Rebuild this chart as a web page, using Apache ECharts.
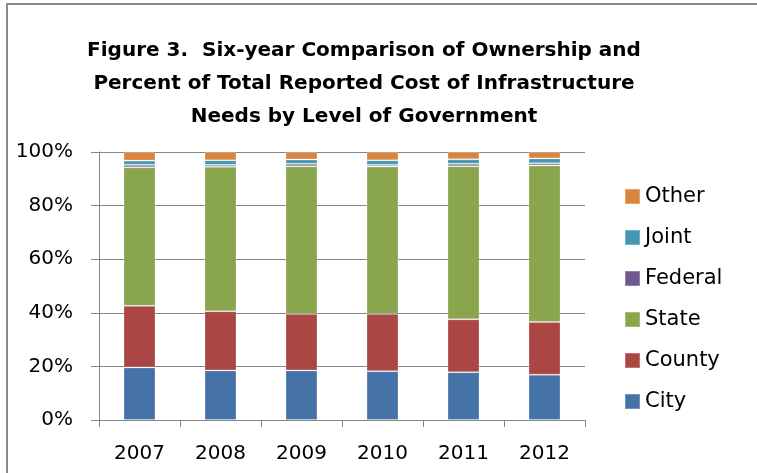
<!DOCTYPE html>
<html>
<head>
<meta charset="utf-8">
<script src="https://cdn.jsdelivr.net/npm/echarts@6/dist/echarts.min.js"></script>
<style>
  html, body { margin: 0; padding: 0; background: #fff; overflow: hidden; }
  #chart { width: 757px; height: 473px; position: relative; }
  .frame {
    position: absolute; left: 6px; top: 3px; width: 800px; height: 520px;
    border: 2px solid #8a8a8a; box-sizing: border-box; pointer-events: none;
  }
</style>
</head>
<body>
<div id="chart"></div>
<div class="frame"></div>
<script>
const years = ["2007", "2008", "2009", "2010", "2011", "2012"];

// percent of total reported cost
const city = [19.6, 18.5, 18.5, 18.2, 17.8, 16.9];
const county = [23.0, 22.1, 21.1, 21.4, 19.8, 19.7];
const state = [51.7, 53.9, 55.1, 55.0, 57.1, 58.4];
const federal = [0.9, 0.7, 0.9, 0.6, 0.9, 0.8];
const joint = [1.6, 1.7, 1.6, 1.7, 1.7, 1.8];
const other = [3.2, 3.1, 2.8, 3.1, 2.7, 2.4];

const yTicks = [0, 20, 40, 60, 80, 100];

const seriesList = [
  { name: "City", data: city, color: "#4572A7" },
  { name: "County", data: county, color: "#AA4643" },
  { name: "State", data: state, color: "#89A54E" },
  { name: "Federal", data: federal, color: "#71588F" },
  { name: "Joint", data: joint, color: "#4198AF" },
  { name: "Other", data: other, color: "#DB843D" },
];

const axisGray = "#868686";
const font = "'DejaVu Sans', sans-serif";

const chart = echarts.init(document.getElementById("chart"));

chart.setOption({
  animation: false,
  backgroundColor: "#fff",
  title: {
    text: "Figure 3.  Six-year Comparison of Ownership and\nPercent of Total Reported Cost of Infrastructure\nNeeds by Level of Government",
    left: 364,
    top: 34,
    padding: 0,
    textAlign: "center",
    textStyle: {
      fontFamily: font,
      fontWeight: "bold",
      fontSize: 20,
      lineHeight: 33,
      color: "#000",
    },
  },
  legend: {
    orient: "vertical",
    left: 624,
    top: 186,
    padding: 0,
    itemWidth: 15,
    itemHeight: 15,
    itemGap: 20,
    icon: "rect",
    data: ["Other", "Joint", "Federal", "State", "County", "City"],
    textStyle: {
      fontFamily: font,
      fontSize: 21,
      lineHeight: 21,
      color: "#000",
    },
  },
  grid: {
    left: 99,
    right: 172,
    top: 152,
    bottom: 53,
  },
  xAxis: {
    type: "category",
    data: years,
    axisLine: { lineStyle: { color: axisGray, width: 1 } },
    axisTick: { show: true, length: 7, lineStyle: { color: axisGray } },
    axisLabel: {
      fontFamily: font,
      fontSize: 20,
      color: "#000",
      margin: 24,
    },
  },
  yAxis: {
    type: "value",
    min: yTicks[0],
    max: yTicks[yTicks.length - 1],
    interval: yTicks[1] - yTicks[0],
    axisLine: { show: true, lineStyle: { color: axisGray, width: 1 } },
    axisTick: { show: true, length: 8, lineStyle: { color: axisGray } },
    splitLine: { lineStyle: { color: axisGray, width: 1 } },
    axisLabel: {
      fontFamily: font,
      fontSize: 20,
      color: "#000",
      margin: 26,
      formatter: "{value}%",
    },
  },
  series: seriesList.map((s) => ({
    name: s.name,
    type: "bar",
    stack: "total",
    barWidth: 32,
    data: s.data,
    itemStyle: {
      color: s.color,
      borderColor: "rgba(255,255,255,0.25)",
      borderWidth: 1,
    },
  })),
});
</script>
</body>
</html>
